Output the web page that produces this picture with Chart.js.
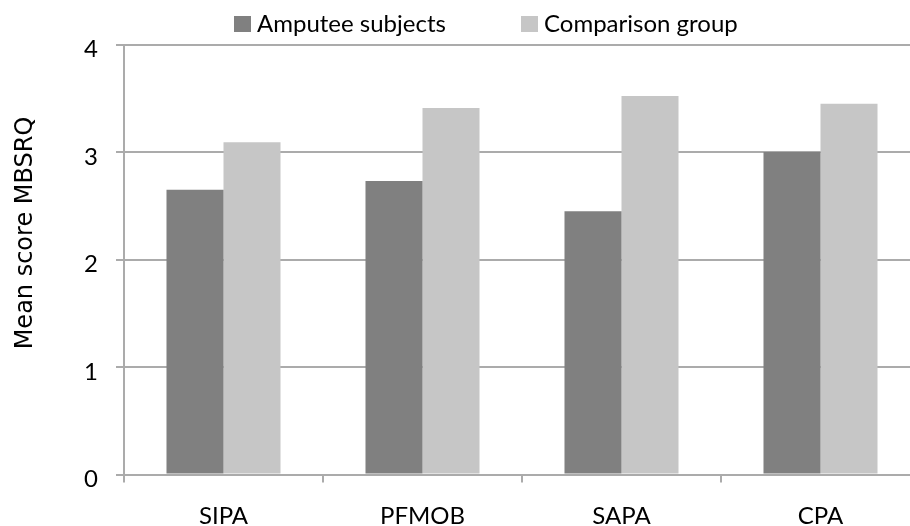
<!DOCTYPE html>
<html>
<head>
<meta charset="utf-8">
<script src="https://cdn.jsdelivr.net/npm/chart.js@4/dist/chart.umd.min.js"></script>
<style>
  html, body { margin: 0; padding: 0; background: #fff; overflow: hidden; }
  #wrap { position: absolute; left: 0; top: 0; }
</style>
</head>
<body>
<div id="wrap"><canvas id="chart" width="930" height="526"></canvas></div>
<script>
// Body-image subscales
const categories = ['SIPA', 'PFMOB', 'SAPA', 'CPA'];
const seriesNames = ['Amputee subjects', 'Comparison group'];
const amputeeScores = [2.65, 2.73, 2.45, 3.0];
const comparisonScores = [3.09, 3.41, 3.52, 3.45];
const yTicks = [0, 1, 2, 3, 4];
const yTitle = 'Mean score MBSRQ';

const DARK = '#808080';
const LIGHT = '#c6c6c6';
const GRID = '#ababab';
const LABEL_FONT = 'Lato';

// Legend drawn as a row of swatches above the plot
const topLegend = {
  id: 'topLegend',
  afterDraw(chart) {
    const ctx = chart.ctx;
    const slots = [234, 521];
    ctx.save();
    ctx.font = '24px ' + LABEL_FONT;
    ctx.textBaseline = 'alphabetic';
    ctx.textAlign = 'left';
    chart.data.datasets.forEach((ds, i) => {
      const x = slots[i];
      ctx.fillStyle = ds.backgroundColor;
      ctx.fillRect(x, 16, 17, 16);
      ctx.fillStyle = '#000';
      ctx.fillText(ds.label, x + 23, 32);
    });
    ctx.restore();
  }
};

// Vertical axis caption, set a little above the plot's middle
const axisCaption = {
  id: 'axisCaption',
  afterDraw(chart) {
    const ctx = chart.ctx;
    ctx.save();
    ctx.translate(26, 233);
    ctx.rotate(-Math.PI / 2);
    ctx.font = '24px "DejaVu Sans"';
    ctx.fillStyle = '#000';
    ctx.textAlign = 'center';
    ctx.textBaseline = 'middle';
    ctx.fillText(yTitle, 0, 0);
    ctx.restore();
  }
};

new Chart(document.getElementById('chart'), {
  type: 'bar',
  data: {
    labels: categories,
    datasets: [
      { label: seriesNames[0], data: amputeeScores, backgroundColor: DARK },
      { label: seriesNames[1], data: comparisonScores, backgroundColor: LIGHT }
    ]
  },
  options: {
    responsive: false,
    animation: false,
    layout: { padding: { top: 44.5, right: 10, left: 0, bottom: 0 } },
    datasets: {
      bar: { categoryPercentage: 0.573, barPercentage: 1.0, borderWidth: 0 }
    },
    plugins: {
      legend: { display: false },
      tooltip: { enabled: false }
    },
    scales: {
      x: {
        grid: {
          offset: true,
          drawOnChartArea: false,
          drawTicks: true,
          tickLength: 8,
          color: GRID,
          lineWidth: 2
        },
        border: { display: true, color: GRID, width: 2 },
        ticks: {
          color: '#000',
          font: { family: LABEL_FONT, size: 24 },
          padding: 19.5,
          maxRotation: 0
        },
        afterFit(scale) { scale.height = 51.5; }
      },
      y: {
        min: 0,
        max: 4,
        afterBuildTicks(scale) { scale.ticks = yTicks.map(v => ({ value: v })); },
        grid: {
          color: GRID,
          lineWidth: 2,
          drawTicks: true,
          tickLength: 8
        },
        border: { display: true, color: GRID, width: 2 },
        ticks: {
          color: '#000',
          font: { family: LABEL_FONT, size: 24 },
          padding: 18,
          labelOffset: 5
        },
        afterFit(scale) { scale.width = 124; }
      }
    }
  },
  plugins: [topLegend, axisCaption]
});
</script>
</body>
</html>
